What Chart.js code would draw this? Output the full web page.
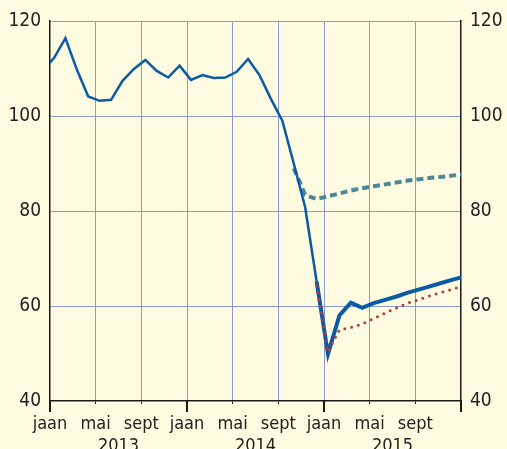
<!DOCTYPE html>
<html>
<head>
<meta charset="utf-8">
<script src="https://cdn.jsdelivr.net/npm/chart.js@4"></script>
<style>
html, body { margin: 0; padding: 0; background: #fffbe0; }
canvas { display: block; }
</style>
</head>
<body>
<canvas id="chart" width="507" height="449"></canvas>
<script>
// months are counted from jaan 2013 = 0
var actualStart = -1; // dets 2012
var actualValues = [109.6, 112.2, 116.4, 109.8, 104.1, 103.2, 103.4, 107.4, 109.9, 111.8, 109.5, 108.1,
	110.6, 107.6, 108.6, 108.0, 108.1, 109.3, 112.0, 108.6, 103.6, 99.0, 90.0, 80.8, 65.2];
var forecastStart = 23;
var forecastValues = [65.2, 49.9, 58.0, 60.7, 59.6, 60.6, 61.3, 62.0, 62.8, 63.5, 64.2, 64.9, 65.6, 66.2];
var lowStart = 23;
var lowValues = [64.3, 50.3, 55.0, 55.5, 56.2, 57.4, 58.5, 59.6, 60.6, 61.4, 62.2, 62.9, 63.6, 64.3];
var highStart = 21;
var highValues = [89.0, 83.4, 82.5, 83.1, 83.7, 84.3, 84.8, 85.2, 85.6, 86.0, 86.4, 86.7, 87.0, 87.2, 87.5, 87.7];

var monthTicks = [0, 4, 8, 12, 16, 20, 24, 28, 32, 36];
var monthLabels = ["jaan", "mai", "sept", "jaan", "mai", "sept", "jaan", "mai", "sept", ""];
var yearStarts = [0, 12, 24, 36];
var yearTicks = [6, 18, 30];
var yearLabels = ["2013", "2014", "2015"];
var yTicks = [40, 60, 80, 100, 120];

var MID = 0.35; // point sits a bit into its month
var fontFam = "'Liberation Sans Narrow', 'DejaVu Sans Condensed', 'Liberation Sans', sans-serif";
var gridCol = "#8d9bcc";
var axisCol = "#1a1a1a";

toPoints = function (start, vals) {
	return vals.map(function (v, i) { return { x: start + i + MID, y: v }; });
};

var yScale = function (pos, width) {
	return {
		position: pos,
		min: 40,
		max: 120,
		afterBuildTicks: function (s) { s.ticks = yTicks.map(function (v) { return { value: v }; }); },
		afterFit: function (s) { s.width = width; },
		ticks: { color: "#222", padding: 9, font: { family: fontFam, size: 19 } },
		grid: {
			display: pos == "left",
			drawTicks: false,
			color: function (c) { return c.tick && c.tick.value == 40 ? "rgba(0,0,0,0)" : gridCol; },
		},
		border: { color: axisCol, width: 1.5 },
	};
};

// longer tick marks where a year begins
var yearMarks = {
	id: "yearMarks",
	afterDraw: function (chart) {
		var c = chart.ctx, sx = chart.scales.x, bottom = chart.chartArea.bottom;
		c.save();
		c.strokeStyle = axisCol;
		c.lineWidth = 2;
		yearStarts.forEach(function (m) {
			var px = Math.round(sx.getPixelForValue(m));
			c.beginPath();
			c.moveTo(px, bottom);
			c.lineTo(px, bottom + 11);
			c.stroke();
		});
		c.restore();
	},
};

new Chart(document.getElementById("chart").getContext("2d"), {
	type: "line",
	data: {
		datasets: [
			{
				data: toPoints(lowStart, lowValues),
				borderColor: "#b23b3b",
				borderWidth: 3,
				borderDash: [0, 7],
				borderCapStyle: "round",
			},
			{
				data: toPoints(forecastStart, forecastValues),
				borderColor: "#0b5aa6",
				borderWidth: 4,
			},
			{
				data: toPoints(actualStart, actualValues),
				borderColor: "#0b5aa6",
				borderWidth: 2.5,
			},
			{
				data: toPoints(highStart, highValues),
				borderColor: "#4a8799",
				borderWidth: 4,
				borderDash: [7, 4],
			},
		],
	},
	options: {
		responsive: false,
		animation: false,
		events: [],
		layout: { padding: { top: 21 } },
		elements: { point: { radius: 0 }, line: { tension: 0, fill: false } },
		plugins: { legend: { display: false }, tooltip: { enabled: false } },
		scales: {
			x: {
				type: "linear",
				position: "bottom",
				weight: 0,
				min: 0,
				max: 36,
				afterBuildTicks: function (s) { s.ticks = monthTicks.map(function (v) { return { value: v }; }); },
				afterFit: function (s) { s.height = 32; },
				ticks: {
					autoSkip: false,
					maxRotation: 0,
					padding: 10,
					color: "#222",
					font: { family: fontFam, size: 18 },
					callback: function (v, i) { return monthLabels[i]; },
				},
				grid: {
					color: function (c) {
						return c.tick && (c.tick.value == 0 || c.tick.value == 36) ? "rgba(0,0,0,0)" : gridCol;
					},
					tickColor: axisCol,
					tickLength: 3,
				},
				border: { color: axisCol, width: 1.5 },
			},
			yr: {
				type: "linear",
				position: "bottom",
				weight: 1,
				min: 0,
				max: 36,
				afterBuildTicks: function (s) { s.ticks = yearTicks.map(function (v) { return { value: v }; }); },
				afterFit: function (s) { s.height = 16; },
				ticks: {
					autoSkip: false,
					maxRotation: 0,
					padding: -5,
					color: "#222",
					font: { family: fontFam, size: 18 },
					callback: function (v, i) { return yearLabels[i]; },
				},
				grid: { display: false },
				border: { display: false },
			},
			y: yScale("left", 50),
			y2: yScale("right", 46),
		},
	},
	plugins: [yearMarks],
});
</script>
</body>
</html>
